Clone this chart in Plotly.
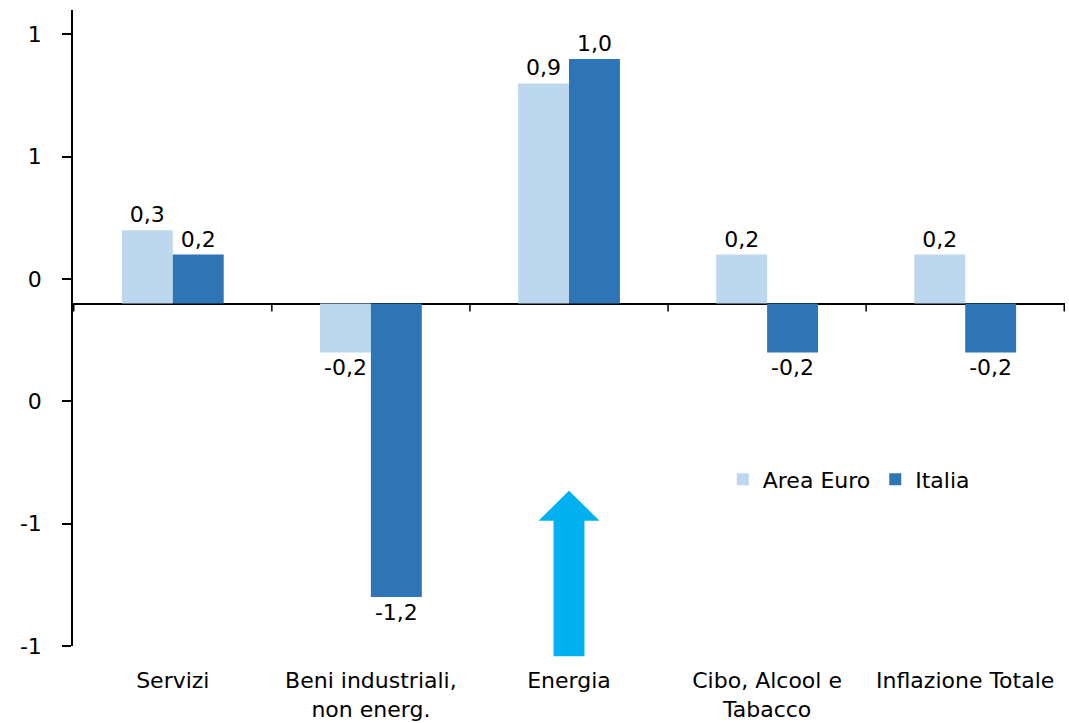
import plotly.graph_objects as go

# Categories and values
categories = ["Servizi", "Beni industriali,<br>non energ.", "Energia",
              "Cibo, Alcool e<br>Tabacco", "Inflazione Totale"]
area_euro = [0.3, -0.2, 0.9, 0.2, 0.2]
italia = [0.2, -1.2, 1.0, -0.2, -0.2]

# Y axis: ticks every 0.5 from -1.4, labelled rounded to integers
y_min, y_max = -1.4, 1.2
y_tickvals = [-1.4, -0.9, -0.4, 0.1, 0.6, 1.1]
y_ticktext = ["-1", "-1", "0", "0", "1", "1"]

FONT = "DejaVu Sans"
FS = 22
LIGHT = "#BDD7EE"
DARK = "#2E75B6"
ARROW = "#00B0F0"

fig = go.Figure()
fig.add_trace(go.Bar(
    name="Area Euro", x=categories, y=area_euro, marker_color=LIGHT,
    marker_line_width=0, text=area_euro, texttemplate="%{y:.1f}",
    textposition="outside", cliponaxis=False,
    textfont=dict(family=FONT, size=FS, color="black"),
))
fig.add_trace(go.Bar(
    name="Italia", x=categories, y=italia, marker_color=DARK,
    marker_line_width=0, text=italia, texttemplate="%{y:.1f}",
    textposition="outside", cliponaxis=False,
    textfont=dict(family=FONT, size=FS, color="black"),
))

# Tick marks on the zero line at category boundaries
shapes = []
for i in range(len(categories) + 1):
    xb = i - 0.5
    shapes.append(dict(type="line", xref="x", yref="y", ysizemode="pixel",
                       yanchor=0, x0=xb, x1=xb, y0=0, y1=-8,
                       line=dict(color="black", width=1.5)))

# Upward arrow under "Energia"
cx = categories.index("Energia")
hs, hh = 0.078, 0.154  # half widths of shaft and head (category units)
y_base, y_neck, y_tip = -0.016, 0.197, 0.244  # paper units
path = (f"M {cx - hs},{y_base} L {cx - hs},{y_neck} L {cx - hh},{y_neck} "
        f"L {cx},{y_tip} L {cx + hh},{y_neck} L {cx + hs},{y_neck} "
        f"L {cx + hs},{y_base} Z")
shapes.append(dict(type="path", xref="x", yref="paper", path=path,
                   fillcolor=ARROW, line=dict(width=0), layer="above"))

fig.update_layout(
    width=1069, height=723,
    margin=dict(l=73, r=4, t=10, b=77),
    paper_bgcolor="white", plot_bgcolor="white",
    barmode="group", bargap=0.486, bargroupgap=0,
    separators=",.",
    font=dict(family=FONT, size=FS, color="black"),
    shapes=shapes,
    showlegend=True,
    legend=dict(orientation="h", x=0.655, y=0.262, xanchor="left",
                yanchor="middle", font=dict(family=FONT, size=FS),
                bgcolor="rgba(0,0,0,0)", itemwidth=30),
    xaxis=dict(showline=False, ticks="", showgrid=False, automargin=False,
               ticklabelstandoff=19,
               tickfont=dict(family=FONT, size=FS)),
    yaxis=dict(range=[y_min, y_max], tickvals=y_tickvals, ticktext=y_ticktext,
               showline=True, linecolor="black", linewidth=1.5,
               ticks="outside", ticklen=9, tickcolor="black", tickwidth=1.5,
               showgrid=False, zeroline=True, zerolinecolor="black",
               zerolinewidth=1.5, ticklabelstandoff=16, automargin=False,
               tickfont=dict(family=FONT, size=FS)),
)

fig.write_html("out.html")
